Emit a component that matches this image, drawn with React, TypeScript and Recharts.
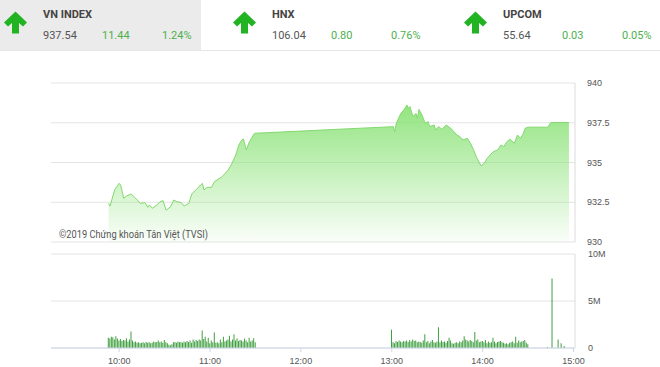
import React from 'react';
import { AreaChart, Area, BarChart, Bar, XAxis, YAxis, CartesianGrid } from 'recharts';

// ---------- header data ----------
const indexNames = ['VN INDEX', 'HNX', 'UPCOM'];
const indexValues = ['937.54', '106.04', '55.64'];
const indexChanges = ['11.44', '0.80', '0.03'];
const indexPercents = ['1.24%', '0.76%', '0.05%'];

// ---------- price (VN-Index intraday) ----------
const priceTimes = [
  '09:53', '09:54', '09:57', '10:00', '10:01', '10:03', '10:05', '10:08', '10:12', '10:14',
  '10:17', '10:19', '10:20', '10:22', '10:25', '10:27', '10:29', '10:31', '10:34', '10:36',
  '10:38', '10:41', '10:43', '10:46', '10:48', '10:51', '10:55', '10:56', '10:58', '11:01',
  '11:03', '11:08', '11:12', '11:14', '11:17', '11:19', '11:21', '11:22', '11:24', '11:26',
  '11:29', '11:30',
  '13:00', '13:01', '13:02', '13:03', '13:06', '13:08', '13:10', '13:11', '13:12', '13:14',
  '13:16', '13:17', '13:18', '13:20', '13:22', '13:24', '13:25', '13:28', '13:29', '13:31',
  '13:33', '13:36', '13:39', '13:43', '13:45', '13:47', '13:50', '13:52', '13:54', '13:56',
  '13:59', '14:01', '14:03', '14:05', '14:07', '14:10', '14:12', '14:14', '14:16', '14:18',
  '14:21', '14:23', '14:25', '14:27', '14:28', '14:30', '14:43', '14:45', '14:57',
];
const priceValues = [
  932.43, 932.26, 933.27, 933.69, 933.58, 932.75, 932.9, 933.02, 932.64, 932.43,
  932.48, 932.18, 932.33, 932.12, 932.33, 932.54, 932.6, 932.0, 932.22, 932.64,
  932.54, 932.48, 932.26, 932.43, 933.02, 933.31, 933.69, 933.27, 933.44, 933.44,
  933.8, 934.11, 934.53, 934.85, 935.47, 936.1, 936.42, 936.48, 935.79, 936.31,
  936.79, 936.84,
  937.25, 937.26, 936.94, 937.47, 938.09, 938.3, 938.62, 938.41, 938.52, 937.89,
  938.09, 937.78, 938.34, 937.99, 937.47, 937.57, 937.26, 937.36, 937.04, 937.26,
  937.09, 937.36, 937.15, 936.73, 936.63, 936.42, 936.52, 936.21, 935.79, 935.33,
  934.78, 934.95, 935.26, 935.47, 935.68, 935.79, 936.1, 936.0, 936.31, 936.46,
  936.21, 936.73, 936.52, 936.84, 937.15, 937.22, 937.22, 937.51, 937.51,
];

// ---------- volume (million shares, one bar per minute) ----------
const morningStart = '09:53';
const morningVolume = [
  1.1, 1.0, 1.2, 1.15, 0.9, 1.25, 1.0, 0.8, 0.95, 0.75,
  0.85, 0.8, 1.0, 0.7, 0.9, 1.75, 0.8, 0.6, 0.7, 0.55,
  0.6, 0.5, 0.55, 0.6, 0.5, 0.65, 0.55, 0.6, 0.5, 0.55,
  0.7, 0.6, 0.65, 0.8, 0.6, 0.7, 0.55, 0.85, 0.6, 0.5,
  0.35, 0.3, 0.4, 0.6, 0.65, 0.55, 0.7, 0.6, 0.65, 0.55,
  0.7, 0.6, 0.75, 0.65, 0.8, 0.55, 0.9, 0.7, 0.85, 0.75,
  0.9, 0.8, 1.85, 0.95, 1.2, 0.7, 1.1, 0.5, 0.8, 0.6,
  1.65, 0.55, 0.6, 0.5, 0.9, 0.6, 1.2, 0.7, 0.8, 0.9,
  1.3, 0.7, 0.9, 1.45, 0.8, 1.0, 0.75, 0.85, 0.8, 0.7,
  1.0, 0.8, 0.6, 1.1, 0.7, 0.8, 1.05, 0.6,
];
const afternoonStart = '13:00';
const afternoonVolume = [
  1.95, 0.6, 0.5, 0.75, 0.65, 0.8, 0.7, 0.6, 0.75, 0.7,
  0.8, 0.65, 0.85, 0.7, 0.9, 0.75, 0.8, 0.6, 0.7, 0.65,
  0.55, 0.8, 1.45, 0.6, 0.75, 0.5, 0.7, 0.85, 0.6, 0.55,
  0.7, 2.2, 0.6, 0.8, 0.65, 0.7, 0.55, 0.75, 1.1, 0.8,
  0.5, 0.45, 0.55, 0.6, 0.5, 0.7, 0.6, 0.8, 1.25, 0.9,
  0.8, 0.7, 0.85, 0.75, 0.6, 1.7, 0.8, 0.9, 0.6, 0.7,
  0.75, 0.6, 0.85, 0.5, 0.7, 0.55, 0.6, 1.1, 0.7, 0.5,
  0.65, 0.7, 0.75, 0.6, 0.55, 0.45, 0.5, 0.4, 0.55, 0.6,
  0.7, 0.5, 1.2, 0.55, 0.8, 0.6, 0.7, 0.75, 0.85, 0.55, 0.4,
];
const closingTimes = ['14:43', '14:46', '14:50', '14:52', '14:54'];
const closingVolume = [0.1, 7.4, 0.9, 0.5, 0.2];

// ---------- axes ----------
const xTicks = ['10:00', '11:00', '12:00', '13:00', '14:00', '15:00'];
const xDomain = ['09:15', '15:01'];
const priceTicks = [930, 932.5, 935, 937.5, 940];
const volumeTicks = [0, 5, 10];
const copyright = '©2019 Chứng khoán Tân Việt (TVSI)';

const toMin = (s: string) => {
  const [h, m] = s.split(':').map(Number);
  return h * 60 + m;
};
const fmtTime = (v: number) => {
  const h = Math.floor(v / 60);
  const m = v % 60;
  return `${h}:${m < 10 ? '0' + m : m}`;
};

const priceData = priceTimes.map((s, i) => ({ t: toMin(s), v: priceValues[i] }));
const volumeData = [
  ...morningVolume.map((v, i) => ({ t: toMin(morningStart) + i, vol: v })),
  ...afternoonVolume.map((v, i) => ({ t: toMin(afternoonStart) + i, vol: v })),
  ...closingTimes.map((s, i) => ({ t: toMin(s), vol: closingVolume[i] })),
];
const xTickMins = xTicks.map(toMin);
const xDom = xDomain.map(toMin);

const tickFont = "'Liberation Sans', Arial, sans-serif";
const headFont = "Roboto, 'Liberation Sans', Arial, sans-serif";

const Arrow = ({ x, y }: { x: number; y: number }) => (
  <polygon
    transform={`translate(${x},${y})`}
    points="11.5,0 23,11 19,15 15,11.5 15,22 8,22 8,11.5 4,15 0,11"
    fill="#22b322"
  />
);

const headerX = [0, 229, 460];

export default function App() {
  return (
    <div style={{ position: 'absolute', left: 0, top: 0, width: 660, height: 367, background: '#fff', overflow: 'hidden' }}>
      <svg width={660} height={52} style={{ position: 'absolute', left: 0, top: 0 }}>
        <rect x={0} y={0} width={201} height={50} fill="#ebebeb" />
        <line x1={0} x2={660} y1={50.5} y2={50.5} stroke="#e6e6e6" />
        {indexNames.map((name, i) => {
          const ox = headerX[i];
          return (
            <g key={name} fontFamily={headFont} fontSize={11}>
              <Arrow x={ox + 4} y={11.5} />
              <text x={ox + 43} y={17.5} fontWeight="bold" fill="#444">{name}</text>
              <text x={ox + 43} y={38.5} fill="#555">{indexValues[i]}</text>
              <text x={ox + 102} y={38.5} fill="#4cb04c">{indexChanges[i]}</text>
              <text x={ox + 162} y={38.5} fill="#4cb04c">{indexPercents[i]}</text>
            </g>
          );
        })}
      </svg>

      <div style={{ position: 'absolute', left: 0, top: 60 }}>
        <AreaChart width={660} height={195} data={priceData} margin={{ top: 23, right: 0, bottom: 13, left: 51 }}>
          <defs>
            <linearGradient id="priceFill" x1="0" y1="0" x2="0" y2="1">
              <stop offset="0%" stopColor="#8de37a" stopOpacity={0.95} />
              <stop offset="100%" stopColor="#8de37a" stopOpacity={0.04} />
            </linearGradient>
          </defs>
          <CartesianGrid vertical={false} stroke="#e4e4e4" />
          <XAxis dataKey="t" type="number" domain={xDom} hide allowDataOverflow />
          <YAxis
            orientation="right"
            width={85}
            domain={[930, 940]}
            ticks={priceTicks}
            allowDataOverflow
            axisLine={{ stroke: '#dcdcdc' }}
            tickLine={false}
            tickMargin={6}
            tick={{ fontSize: 9, fill: '#555', fontFamily: tickFont }}
          />
          <Area
            type="linear"
            dataKey="v"
            stroke="#82d96e"
            strokeWidth={1}
            fill="url(#priceFill)"
            fillOpacity={1}
            dot={false}
            activeDot={false}
            isAnimationActive={false}
          />
        </AreaChart>
      </div>

      <svg width={300} height={20} style={{ position: 'absolute', left: 0, top: 225 }}>
        <text x={59} y={13.3} fontFamily={headFont} fontSize={11} fill="#555" textLength={149} lengthAdjust="spacingAndGlyphs">
          {copyright}
        </text>
      </svg>

      <div style={{ position: 'absolute', left: 0, top: 245 }}>
        <BarChart width={660} height={122} data={volumeData} margin={{ top: 9, right: 0, bottom: 0, left: 51 }}>
          <CartesianGrid vertical={false} stroke="#e4e4e4" />
          <XAxis
            dataKey="t"
            type="number"
            domain={xDom}
            ticks={xTickMins}
            tickFormatter={fmtTime}
            allowDataOverflow
            height={19}
            tickSize={4}
            tickMargin={6}
            axisLine={{ stroke: '#ccd6eb' }}
            tickLine={{ stroke: '#ccd6eb' }}
            tick={{ fontSize: 9, fill: '#555', fontFamily: tickFont }}
          />
          <YAxis
            orientation="right"
            width={85}
            domain={[0, 10]}
            ticks={volumeTicks}
            allowDataOverflow
            tickFormatter={(v: number) => (v === 0 ? '0' : `${v}M`)}
            axisLine={{ stroke: '#dcdcdc' }}
            tickLine={false}
            tickMargin={7}
            tick={{ fontSize: 9, fill: '#555', fontFamily: tickFont }}
          />
          <Bar dataKey="vol" fill="#3f9f3f" barSize={1} isAnimationActive={false} />
        </BarChart>
      </div>
    </div>
  );
}
